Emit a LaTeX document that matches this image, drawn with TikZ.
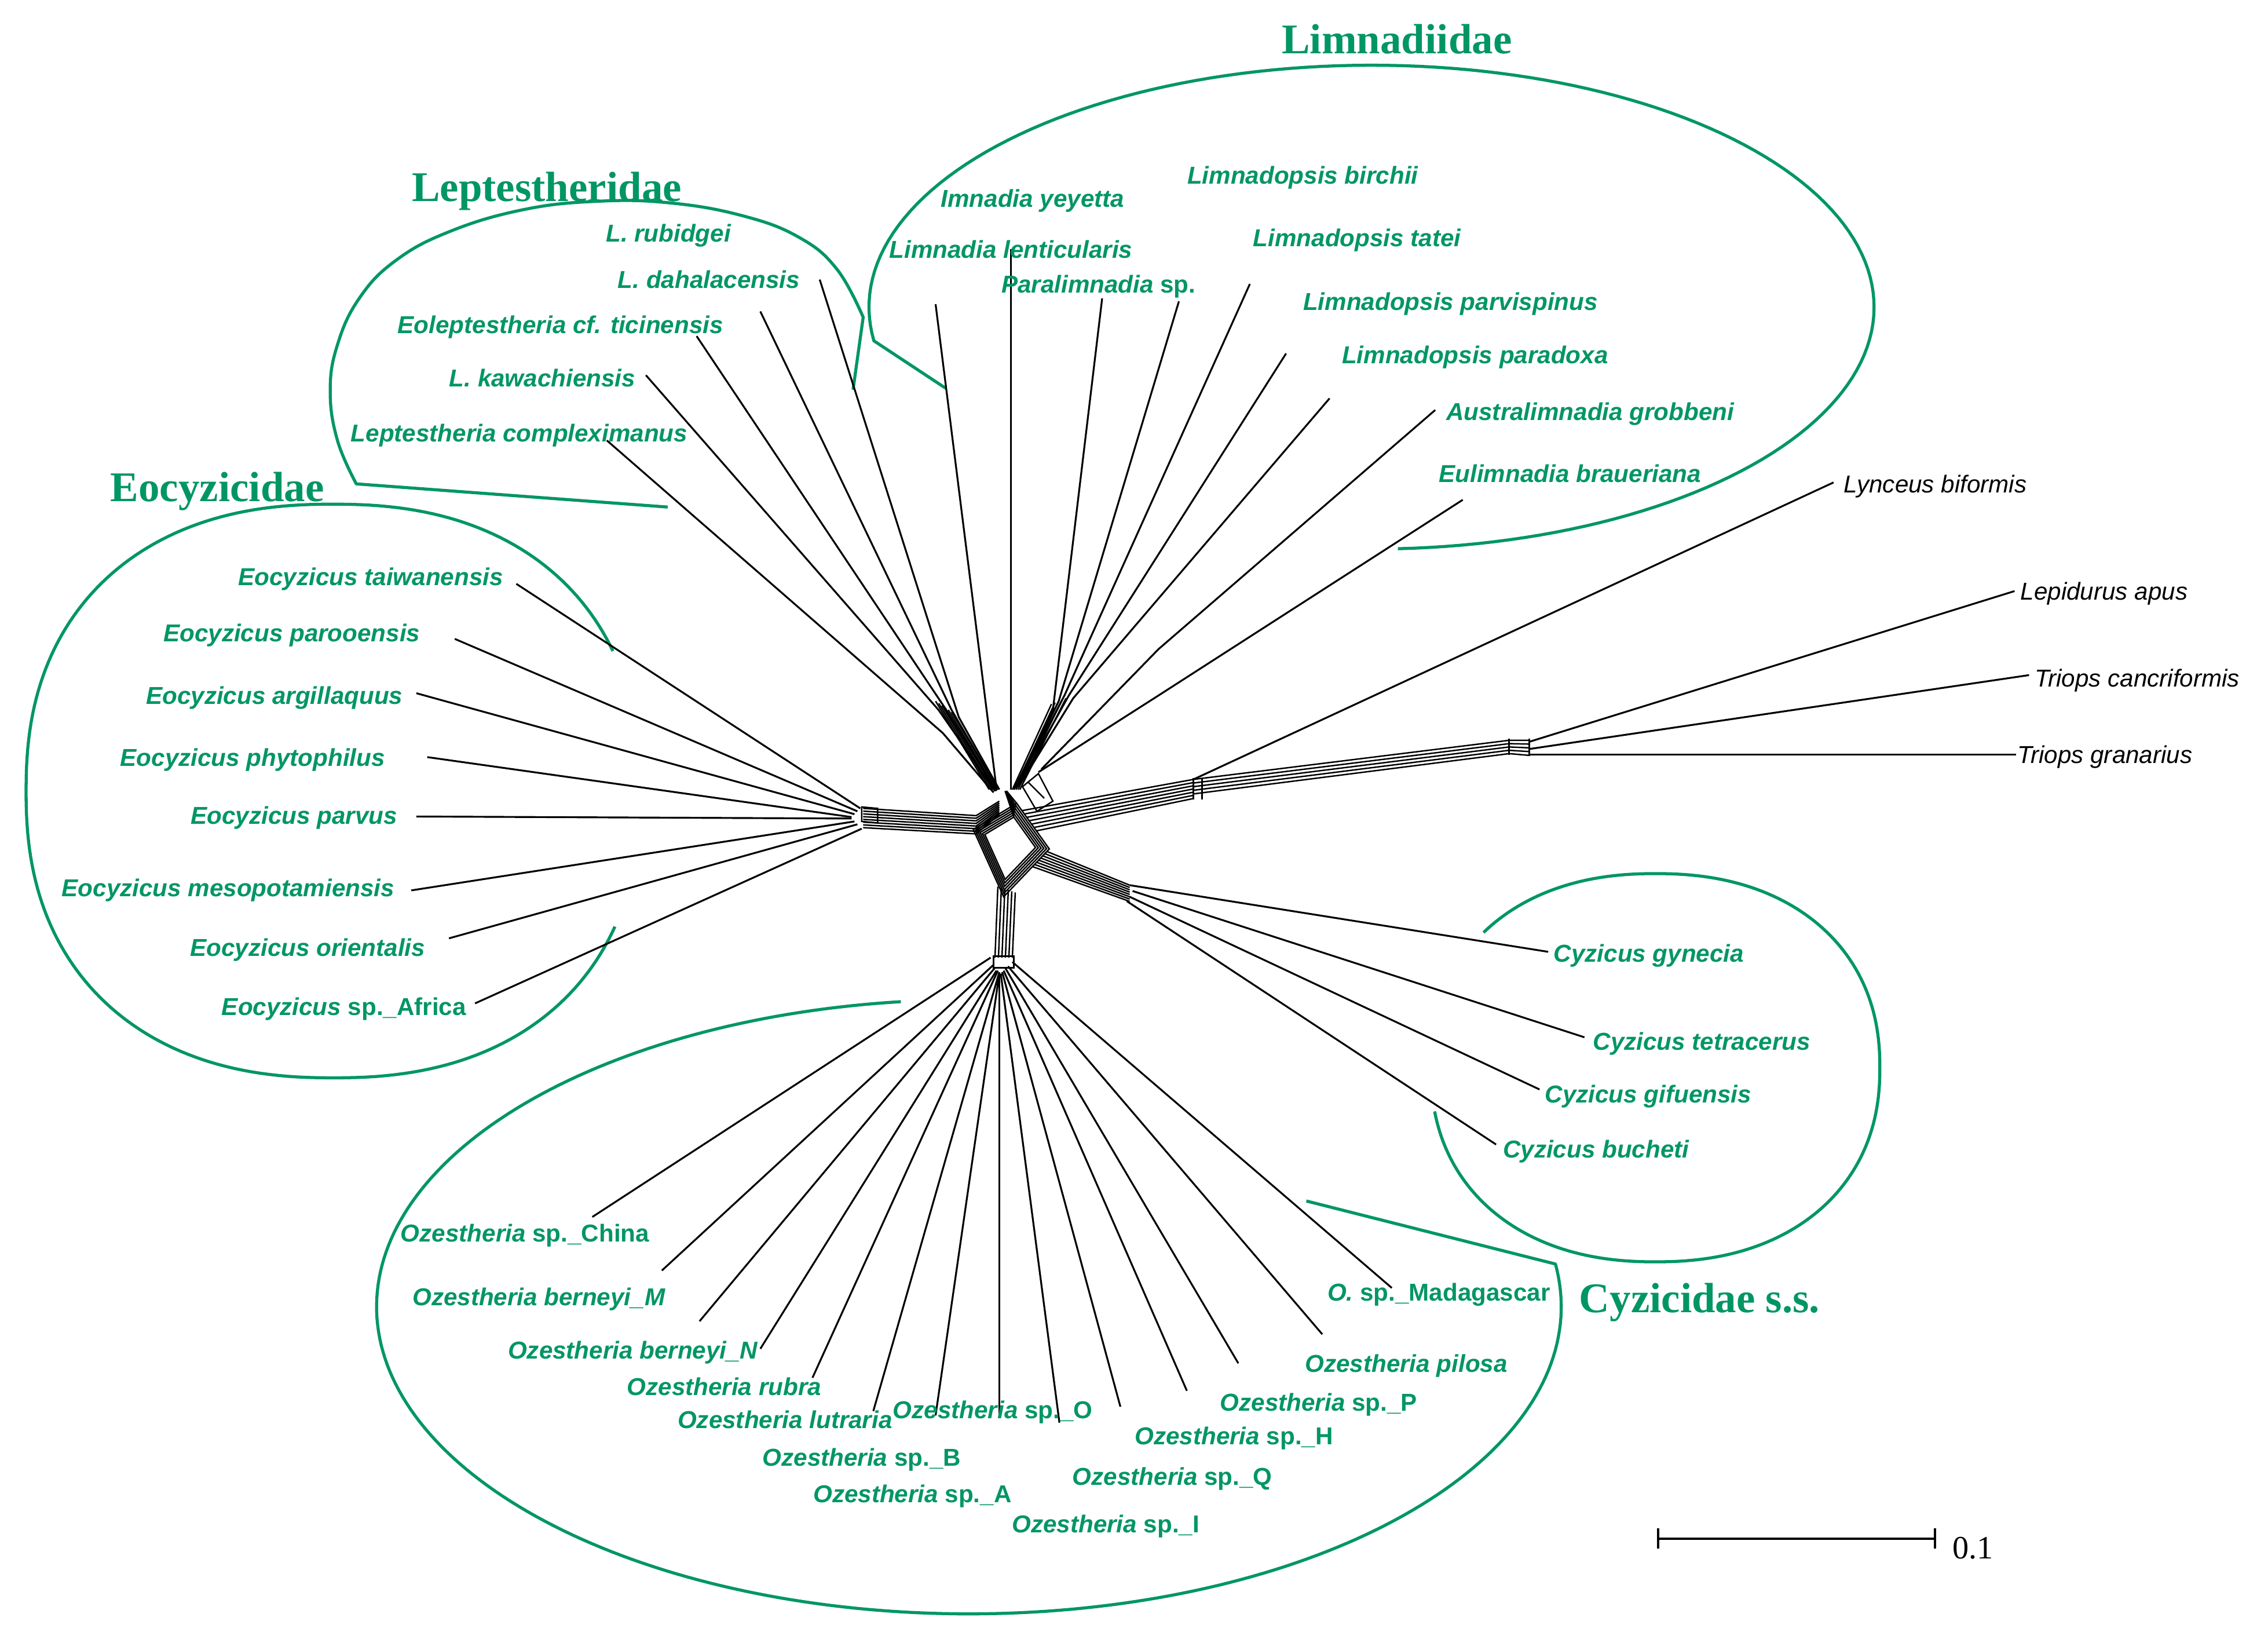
\documentclass[tikz,border=0pt]{standalone}
\usepackage{fontspec}
\setmainfont{Liberation Serif}
\setsansfont{Liberation Sans}
\definecolor{cgreen}{RGB}{0,150,100}
\tikzset{
  grn/.style={draw=cgreen, line width=3pt, line join=round},
  br/.style={draw=black, line width=1.8pt},
  bd/.style={draw=black, line width=1.4pt},
  sp/.style={text=cgreen, font=\fontsize{24}{28}\selectfont\sffamily\bfseries\itshape, inner sep=0pt, anchor=base},
  og/.style={text=black, font=\fontsize{24}{28}\selectfont\sffamily\itshape, inner sep=0pt, anchor=base west},
  fam/.style={text=cgreen, font=\fontsize{41.5}{46}\selectfont\rmfamily\bfseries, inner sep=0pt, anchor=base},
  sclab/.style={text=black, font=\fontsize{32}{36}\selectfont\rmfamily, inner sep=0pt, anchor=base west},
}
\begin{document}
\begin{tikzpicture}[x=0.05cm,y=-0.05cm]
\path[use as bounding box] (0,0) rectangle (1566,1126.5);
\fill[white] (0,0) rectangle (1566,1126.5);

% ---------------- green outlines ----------------
% Limnadiidae
\draw[grn] (653,268) -- plot[domain=172:447, samples=150] ({947+347*cos(\x)},{212+167*sin(\x)});
% Leptestheridae
\draw[grn] (461,350) -- (246,334) -- plot[smooth, tension=0.7] coordinates {(246,334) (233,304) (228,270) (233,238) (248,206) (273,180) (310,160) (360,145) (411,139) (462,140) (513,149) (552,164) (578,186) (596,219)} -- (589,269);
% Eocyzicidae
\draw[grn] plot[domain=-26:-335, samples=200] ({230+212*cos(\x)*(abs(cos(\x))+0.0001)^(-0.13)},{546+198*sin(\x)*(abs(sin(\x))+0.0001)^(-0.13)});
% Cyzicus
\draw[grn] plot[domain=222:529, samples=200] ({1143+155*cos(\x)*(abs(cos(\x))+0.0001)^(-0.1)},{737+134*sin(\x)*(abs(sin(\x))+0.0001)^(-0.1)});
% Ozestheria (Cyzicidae s.s.)
\draw[grn] plot[domain=-96.6:-368, samples=220] ({669+409*cos(\x)},{902+212*sin(\x)}) -- (902,829);

% ---------------- family titles ----------------
\node[fam] (fLim) at (964.5,37) {Limnadiidae};
\node[fam] (fLep) at (377.5,139) {Leptestheridae};
\node[fam] (fEoc) at (150,346) {Eocyzicidae};
\node[fam] (fCyz) at (1173.5,906) {Cyzicidae s.s.};

% ---------------- central network ----------------
\coordinate (U) at (695,547);
\foreach \s in {1,1.1,1.2,1.3,1.4,1.5} {
  \draw[bd] ({696+4*\s},{583-19*\s}) -- ({696+19*\s},{583+2*\s}) -- ({696-2*\s},{583+24*\s}) -- ({696-16*\s},{583-7*\s}) -- cycle;
  \draw[bd] ({696+4*\s},{583-19*\s}) -- ({692+2*\s},546);
}
% left band to Eocyzicidae
\foreach \k in {0,...,7} {\draw[bd] (596,{558+1.9*\k}) -- (674,{563+1.8*\k}) -- (690,{553+1.3*\k});}
\draw[bd] (595,557) -- (606,558) -- (606,568) -- (595,567) -- cycle;
% lower band to Ozestheria
\foreach \k in {0,...,5} {\draw[bd] ({687+2.4*\k},661) -- ({689+2.4*\k},{612+0.8*\k});}
\draw[bd] (686,660) rectangle (700,668);
% outgroup band
\foreach \k in {0,...,6} {\draw[bd] ({705.3+1.65*\k},{559.6+2.33*\k}) -- (824,{538+2.2*\k});}
\draw[bd] (824,537) -- (824,552) (830,537) -- (830,552);
\foreach \k in {0,...,4} {\draw[bd] (824,{538+2.5*\k}) -- (1042,{511+2.3*\k}) -- (1056,{511+2.6*\k});}
\draw[bd] (1042,510) -- (1042,521) (1056,510) -- (1056,522);
% Cyzicus band
\foreach \k in {0,...,7} {\draw[bd] ({722.5-1.4*\k},{587.6+1.5*\k}) -- (780,{611+1.6*\k});}
% upper right box
\draw[bd] (706,543) -- (717,534) -- (727,553) -- (716,560) -- cycle;
\draw[bd] (710,540) -- (721,551);

% ---------------- Leptestheridae leaves ----------------
\foreach \n/\tx/\ty/\mx/\my/\hx/\hy in {La/566/193/662/495/690/545, Lb/525/215/657/490/689/545, Lc/481/232/652/488/688/546, Ld/446/259/648/490/687/546, Le/419/304/651/506/686/547} {
  \coordinate (t\n) at (\tx,\ty); \coordinate (m\n) at (\mx,\my); \coordinate (h\n) at (\hx,\hy);
  \draw[br] (t\n) -- (m\n) -- (h\n);
}
\foreach \k in {0,...,5} {\draw[bd] ({646+2.2*\k},{484+1.5*\k}) -- ({683+1.2*\k},{545});}

% ---------------- Limnadiidae leaves ----------------
\foreach \n/\tx/\ty/\mx/\my/\hx/\hy in {Ma/646/210/667/377/688/544, Mb/698/172/698/400/698/545, Mc/761/206/727/490/700/545, Md/814/208/731/484/701/544, Me/863/196/735/480/702/543, Mf/888/244/738/480/703/543, Mg/918/275/741/482/704/542, Mh/991/283/800/448/719/531, Mi/1010/345/800/480/717/533} {
  \coordinate (t\n) at (\tx,\ty); \coordinate (m\n) at (\mx,\my); \coordinate (h\n) at (\hx,\hy);
  \draw[br] (t\n) -- (m\n) -- (h\n);
}
\foreach \k in {0,...,4} {\draw[bd] ({726+2.5*\k},{486-1*\k}) -- ({699+1.3*\k},{545});}

% ---------------- Eocyzicidae leaves ----------------
\foreach \n/\tx/\ty/\hx/\hy in {Ea/356.5/403/594/558, Eb/314/441/592/560, Ec/287.5/478.5/590/562, Ed/295/522.6/588/564, Ee/287.5/563.6/588/565, Ef/284/614.6/590/567, Eg/310/647.7/592/569, Eh/328/692.6/595/572} {
  \coordinate (t\n) at (\tx,\ty); \coordinate (h\n) at (\hx,\hy);
  \draw[br] (t\n) -- (h\n);
}

% ---------------- Ozestheria leaves ----------------
\foreach \n/\tx/\ty/\hx/\hy in {Oa/409/840/684/661, Ob/457/877/686/666, Oc/483/912/687/668, Od/525/931/688/670, Oe/561/951/689/670, Of/603/974/690/671, Og/646/977/690/672, Oh/690/979/690/672, Oi/731.5/982/691/672, Oj/773.6/971/692/671, Ok/819.5/960/693/670, Ol/855/941/694/668, Om/913/921/696/667, On/961/889/699/664} {
  \coordinate (t\n) at (\tx,\ty); \coordinate (h\n) at (\hx,\hy);
  \draw[br] (t\n) -- (h\n);
}

% ---------------- Cyzicus leaves ----------------
\foreach \n/\tx/\ty/\hx/\hy in {Ca/1069/657/780/611, Cb/1094/716/782/615, Cc/1063/752/780/619, Cd/1033/790/778/622} {
  \coordinate (t\n) at (\tx,\ty); \coordinate (h\n) at (\hx,\hy);
  \draw[br] (t\n) -- (h\n);
}

% ---------------- outgroups ----------------
\foreach \n/\tx/\ty/\hx/\hy in {Ga/1266/333/824/538, Gb/1391/408/1056/512, Gc/1401/466/1056/517, Gd/1392/521/1056/521} {
  \coordinate (t\n) at (\tx,\ty); \coordinate (h\n) at (\hx,\hy);
  \draw[br] (t\n) -- (h\n);
}

% ---------------- species labels ----------------
\node[sp] (lrub) at (461.5,167) {L. rubidgei};
\node[sp] (ldah) at (489.5,199) {L. dahalacensis};
\node[sp] (leol) at (387,230) {Eoleptestheria cf. ticinensis};
\node[sp] (lkaw) at (374.5,267) {L. kawachiensis};
\node[sp] (lcom) at (358.5,305) {Leptestheria compleximanus};

\node[sp] (myey) at (713,143) {Imnadia yeyetta};
\node[sp] (mlen) at (698,178) {Limnadia lenticularis};
\node[sp] (mpar) at (758.5,202) {Paralimnadia \textup{sp.}};
\node[sp] (mbir) at (899.5,127) {Limnadopsis birchii};
\node[sp] (mtat) at (937,170) {Limnadopsis tatei};
\node[sp] (mpsp) at (1001.5,214) {Limnadopsis parvispinus};
\node[sp] (mpdx) at (1018.5,251) {Limnadopsis paradoxa};
\node[sp] (mgro) at (1098,290) {Australimnadia grobbeni};
\node[sp] (mbra) at (1084,333) {Eulimnadia braueriana};

\node[sp] (etai) at (256,404) {Eocyzicus taiwanensis};
\node[sp] (epar) at (201.5,443) {Eocyzicus parooensis};
\node[sp] (earg) at (189.5,486) {Eocyzicus argillaquus};
\node[sp] (ephy) at (174.5,529) {Eocyzicus phytophilus};
\node[sp] (epvs) at (203,569) {Eocyzicus parvus};
\node[sp] (emes) at (157.5,619) {Eocyzicus mesopotamiensis};
\node[sp] (eori) at (212.5,660) {Eocyzicus orientalis};
\node[sp] (eafr) at (237.5,701) {Eocyzicus \textup{sp.\_Africa}};

\node[sp] (cgyn) at (1138.5,664) {Cyzicus gynecia};
\node[sp] (ctet) at (1175,725) {Cyzicus tetracerus};
\node[sp] (cgif) at (1138,761) {Cyzicus gifuensis};
\node[sp] (cbuc) at (1102,799) {Cyzicus bucheti};

\node[og] (glyn) at (1273,340) {Lynceus biformis};
\node[og] (glep) at (1395,414) {Lepidurus apus};
\node[og] (gcan) at (1405,474) {Triops cancriformis};
\node[og] (ggra) at (1393,527) {Triops granarius};

\node[sp] (ochi) at (362.5,857) {Ozestheria \textup{sp.\_China}};
\node[sp] (obem) at (372,901) {Ozestheria berneyi\_M};
\node[sp] (oben) at (437,938) {Ozestheria berneyi\_N};
\node[sp] (orub) at (500,963) {Ozestheria rubra};
\node[sp] (olut) at (542,986) {Ozestheria lutraria};
\node[sp] (oso) at (685.5,979) {Ozestheria \textup{sp.\_O}};
\node[sp] (osb) at (595,1012) {Ozestheria \textup{sp.\_B}};
\node[sp] (osa) at (630,1037) {Ozestheria \textup{sp.\_A}};
\node[sp] (osi) at (763.5,1058) {Ozestheria \textup{sp.\_I}};
\node[sp] (osq) at (809.5,1025) {Ozestheria \textup{sp.\_Q}};
\node[sp] (osh) at (852,997) {Ozestheria \textup{sp.\_H}};
\node[sp] (osp) at (910.5,974) {Ozestheria \textup{sp.\_P}};
\node[sp] (opil) at (971,947) {Ozestheria pilosa};
\node[sp] (omad) at (993.5,898) {O. \textup{sp.\_Madagascar}};

% ---------------- scale bar ----------------
\coordinate (sbL) at (1145,1062);
\coordinate (sbR) at (1336,1062);
\draw[line width=2.5pt] (sbL) -- (sbR);
\draw[line width=2.5pt] (1145,1055) -- (1145,1069) (1336,1055) -- (1336,1069);
\node[sclab] (sbt) at (1348,1076) {0.1};
\end{tikzpicture}
\end{document}
